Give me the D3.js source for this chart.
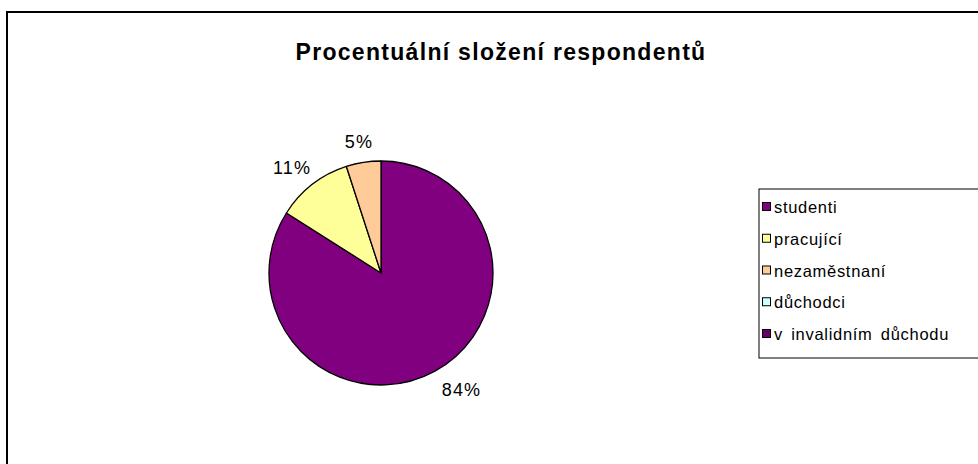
<!DOCTYPE html>
<html>
<head>
<meta charset="utf-8">
<script src="https://cdn.jsdelivr.net/npm/d3@7/dist/d3.min.js"></script>
<style>
  html, body { margin: 0; padding: 0; background: #fff; }
  svg { display: block; font-family: "Liberation Sans", Arial, sans-serif; }
</style>
</head>
<body>
<svg id="chart" width="978" height="464"></svg>
<script>
// Respondent groups and their share of the sample (%)
const categories = ["studenti", "pracující", "nezaměstnaní", "důchodci", "v invalidním důchodu"];
const shares = [84, 11, 5, 0, 0];
const colors = ["#800080", "#FFFF99", "#FFCC99", "#CCFFFF", "#660066"];
const chartTitle = "Procentuální složení respondentů";

const svg = d3.select("#chart");

// Outer chart frame
svg.append("rect")
  .attr("x", 7).attr("y", 12)
  .attr("width", 1000).attr("height", 500)
  .attr("fill", "#fff")
  .attr("stroke", "#000")
  .attr("stroke-width", 2);

// Title
svg.append("text")
  .attr("x", 501).attr("y", 60)
  .attr("text-anchor", "middle")
  .attr("font-size", 23)
  .attr("font-weight", "bold")
  .attr("letter-spacing", 1.3)
  .text(chartTitle);

// Pie
const cx = 381, cy = 273, radius = 112;
const data = categories.map((name, i) => ({ name, value: shares[i], color: colors[i] }));

const pie = d3.pie().sort(null).value(d => d.value);
const arcs = pie(data);
const arc = d3.arc().innerRadius(0).outerRadius(radius);

const g = svg.append("g").attr("transform", `translate(${cx},${cy})`);

g.selectAll("path")
  .data(arcs.filter(a => a.data.value > 0))
  .join("path")
  .attr("d", arc)
  .attr("fill", d => d.data.color)
  .attr("stroke", "#000")
  .attr("stroke-width", 1.3)
  .attr("stroke-linejoin", "round");

// Percentage labels just outside each slice; labels below the pie hang
// fully to the side their slice points to.
const labelR = 126;
const labels = g.selectAll("text.pct")
  .data(arcs.filter(a => a.data.value > 0))
  .join("text")
  .attr("class", "pct")
  .attr("font-size", 18)
  .attr("letter-spacing", 1.2)
  .attr("text-anchor", "middle")
  .text(d => d.data.value + "%");

labels.each(function(d) {
  const box = this.getBBox();
  const a = (d.startAngle + d.endAngle) / 2;
  const ux = Math.sin(a), uy = -Math.cos(a);
  const w = box.width, h = 14;
  const fx = uy > 0 ? Math.sign(ux) : ux;
  const mx = ux * labelR + fx * w / 2;
  const my = uy * labelR + uy * h / 2;
  d3.select(this).attr("x", mx).attr("y", my + 6.5);
});

// Legend
const lgX = 759, lgY = 189;
svg.append("rect")
  .attr("x", lgX).attr("y", lgY)
  .attr("width", 260).attr("height", 169)
  .attr("fill", "#fff")
  .attr("stroke", "#000")
  .attr("stroke-width", 1);

const rowY = d3.scalePoint().domain(categories).range([lgY + 18, lgY + 145]);

const item = svg.selectAll("g.lg")
  .data(data)
  .join("g")
  .attr("class", "lg")
  .attr("transform", d => `translate(${lgX}, ${rowY(d.name)})`);

item.append("rect")
  .attr("x", 3.5).attr("y", -4.5)
  .attr("width", 8).attr("height", 8)
  .attr("fill", d => d.color)
  .attr("stroke", "#000")
  .attr("stroke-width", 1);

item.append("text")
  .attr("x", 15).attr("y", 6)
  .attr("font-size", 16.5)
  .attr("letter-spacing", 0.7)
  .attr("word-spacing", 3)
  .text(d => d.name);
</script>
</body>
</html>
